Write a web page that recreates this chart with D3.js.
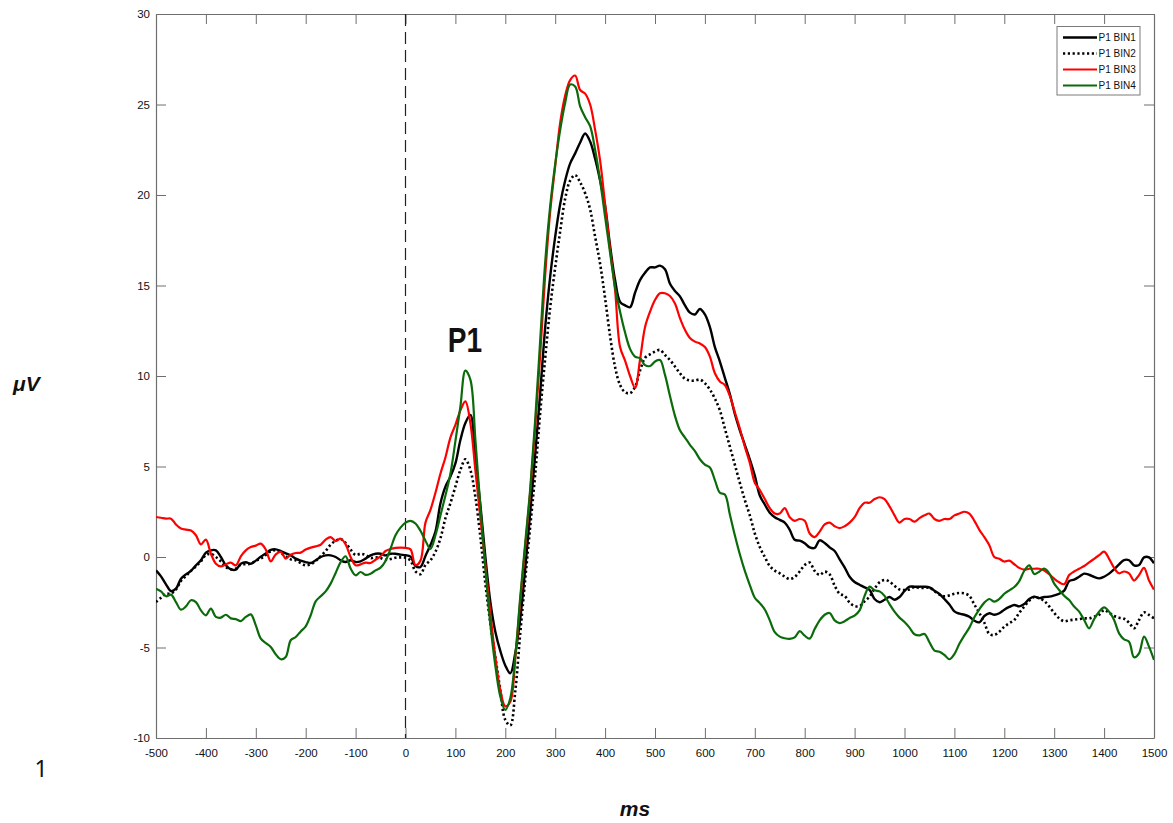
<!DOCTYPE html>
<html>
<head>
<meta charset="utf-8">
<script src="https://cdn.jsdelivr.net/npm/d3@7"></script>
<style>
  html, body { margin: 0; padding: 0; background: #ffffff; }
  svg { display: block; }
  .tick text { font-family: "Liberation Sans", Arial, Helvetica, sans-serif; font-size: 11.5px; fill: #111; }
</style>
</head>
<body>
<svg id="chart" width="1173" height="823"></svg>
<script>
// ERP grand averages, one sample every 10 ms from -500 to 1500 ms (µV)
const sampleStep = 10;
const times = d3.range(-500, 1501, sampleStep);

const bin1 = [
  -0.74, -1.07, -1.51, -1.88, -1.75, -1.2, -0.96, -0.77, -0.46, -0.18,
  0.24, 0.37, 0.37, 0.0, -0.46, -0.68, -0.7, -0.37, -0.29, -0.37,
  -0.2, 0.02, 0.2, 0.39, 0.42, 0.33, 0.2, 0.09, -0.09, -0.2,
  -0.28, -0.33, -0.18, 0.0, 0.09, 0.09, 0.0, -0.18, -0.28, -0.18,
  -0.28, -0.24, -0.09, 0.09, 0.18, 0.18, 0.09, 0.18, 0.18, 0.13,
  0.1, 0.02, -0.5, -0.55, 0.06, 0.66, 1.4, 2.96, 3.89, 4.44,
  5.17, 6.46, 7.4, 7.85, 5.5, 2.9, 0.02, -2.47, -4.13, -5.19,
  -5.99, -6.43, -5.3, -3.4, -0.6, 2.5, 5.7, 9.1, 12.7, 15.5,
  17.7, 19.5, 20.8, 21.75, 22.3, 22.9, 23.4, 22.95, 22.0, 20.8,
  19.4, 17.2, 15.3, 14.1, 13.9, 13.8, 14.6, 15.3, 15.7, 16.0,
  16.0, 16.1, 15.9, 15.1, 14.7, 14.4, 13.9, 13.5, 13.4, 13.7,
  13.4, 12.7, 11.6, 10.8, 9.9, 9.0, 7.9, 7.0, 6.2, 5.4,
  4.5, 3.4, 2.9, 2.45, 2.2, 2.05, 1.9, 1.5, 0.95, 0.9,
  0.76, 0.53, 0.5, 0.92, 0.77, 0.53, 0.33, -0.13, -0.57, -1.09,
  -1.38, -1.53, -1.68, -1.82, -2.32, -2.5, -2.36, -2.21, -2.36, -2.21,
  -1.88, -1.64, -1.64, -1.64, -1.64, -1.68, -1.86, -2.04, -2.32, -2.62,
  -3.0, -3.13, -3.19, -3.3, -3.52, -3.61, -3.26, -3.11, -3.19, -3.11,
  -2.91, -2.76, -2.65, -2.73, -2.6, -2.32, -2.19, -2.27, -2.21, -2.19,
  -2.12, -2.03, -1.86, -1.33, -1.25, -1.09, -0.92, -0.98, -1.1, -1.18,
  -1.09, -0.92, -0.68, -0.41, -0.17, -0.18, -0.46, -0.44, -0.02, -0.02,
  -0.35
];

const bin2 = [
  -2.49, -2.25, -2.03, -2.03, -1.8, -1.33, -1.05, -0.77, -0.52, -0.24,
  0.11, 0.17, 0.0, -0.24, -0.55, -0.68, -0.64, -0.42, -0.4, -0.37,
  -0.2, -0.09, 0.11, 0.31, 0.37, 0.22, 0.04, -0.13, -0.18, -0.33,
  -0.46, -0.4, -0.22, 0.04, 0.33, 0.68, 0.9, 0.99, 0.77, 0.41,
  0.11, 0.18, 0.11, -0.06, -0.02, -0.06, -0.15, -0.11, -0.04, -0.02,
  -0.04, -0.2, -0.8, -0.95, -0.44, -0.18, 0.29, 1.03, 2.14, 2.97,
  3.89, 4.81, 5.4, 4.81, 3.33, 1.12, -1.45, -3.66, -5.51, -7.35,
  -9.0, -9.3, -7.4, -4.2, -1.2, 1.7, 4.6, 8.0, 11.0, 13.8,
  16.0, 18.0, 19.8, 20.8, 21.1, 20.7, 20.1, 19.2, 17.7, 16.2,
  14.3, 12.2, 10.5, 9.5, 9.1, 9.05, 9.4, 10.3, 11.0, 11.2,
  11.35, 11.44, 11.16, 10.88, 10.52, 10.15, 9.85, 9.75, 9.75, 9.8,
  9.6, 9.25, 8.75, 8.1, 7.1, 6.1, 5.1, 4.1, 3.15, 2.3,
  1.3, 0.55, 0.0, -0.5, -0.75, -0.9, -1.08, -1.22, -1.1, -0.8,
  -0.44, -0.31, -0.77, -0.99, -0.81, -0.96, -1.58, -2.03, -2.15, -2.52,
  -2.71, -2.71, -2.45, -2.19, -1.75, -1.4, -1.27, -1.36, -1.6, -1.79,
  -1.82, -1.79, -1.66, -1.71, -1.71, -1.69, -1.88, -2.08, -2.17, -2.12,
  -2.03, -1.99, -2.01, -2.15, -2.63, -3.09, -3.63, -4.25, -4.31, -4.13,
  -3.85, -3.66, -3.48, -3.08, -2.74, -2.41, -2.21, -2.28, -2.43, -2.73,
  -3.09, -3.39, -3.55, -3.5, -3.46, -3.43, -3.39, -3.39, -3.3, -3.19,
  -2.93, -3.08, -3.26, -3.35, -3.41, -3.63, -3.94, -3.48, -3.06, -3.2,
  -3.39
];

const bin3 = [
  2.21, 2.17, 2.12, 2.12, 1.8, 1.57, 1.51, 1.47, 1.2, 0.7,
  0.96, 0.18, -0.37, -0.52, -0.4, -0.31, -0.46, 0.04, 0.37, 0.55,
  0.63, 0.74, 0.41, -0.24, 0.15, 0.28, -0.09, 0.13, 0.22, 0.24,
  0.41, 0.52, 0.59, 0.68, 0.96, 1.1, 0.88, 1.01, 0.7, 0.0,
  -0.46, -0.41, -0.31, -0.33, -0.15, 0.04, 0.33, 0.44, 0.5, 0.52,
  0.5, 0.42, -0.45, -0.2, 1.9, 2.6, 3.55, 4.6, 5.5, 6.6,
  7.3, 8.1, 8.6, 7.4, 4.8, 2.2, -0.4, -3.1, -5.5, -7.35,
  -8.25, -8.0, -5.6, -2.4, 0.6, 3.6, 7.2, 11.2, 15.6, 19.1,
  21.6, 24.0, 25.5, 26.35, 26.6, 25.8, 25.6, 25.0, 23.6, 21.9,
  19.5, 17.0, 14.75, 11.6, 10.85, 10.0, 9.35, 10.9, 12.7, 13.55,
  14.2, 14.57, 14.57, 14.42, 14.0, 13.2, 12.55, 12.1, 11.9, 11.8,
  11.6, 11.07, 10.15, 9.7, 9.5, 8.9, 8.0, 7.1, 6.1, 5.2,
  4.1, 3.7, 3.2, 2.7, 2.4, 2.4, 2.7, 2.2, 2.0, 2.1,
  2.0, 1.3, 1.1, 1.4, 1.8, 1.9, 1.7, 1.6, 1.7, 1.9,
  2.2, 2.7, 3.0, 3.0, 3.2, 3.3, 3.2, 2.8, 2.3, 1.9,
  2.1, 2.1, 1.95, 2.15, 2.3, 2.4, 2.1, 2.0, 2.1, 2.1,
  2.3, 2.4, 2.5, 2.4, 2.0, 1.5, 1.1, 0.65, 0.0, -0.1,
  -0.25, -0.2, -0.4, -0.6, -0.7, -0.65, -0.65, -0.65, -0.75, -0.95,
  -1.2, -1.4, -1.5, -1.0, -0.8, -0.65, -0.5, -0.3, -0.1, 0.1,
  0.3, -0.1, -0.6, -0.9, -0.8, -0.9, -1.3, -1.0, -0.6, -1.3,
  -1.8
];

const bin4 = [
  -1.75, -1.9, -2.17, -2.08, -2.49, -2.91, -2.73, -2.39, -2.49, -2.95,
  -3.22, -2.85, -3.31, -3.35, -3.19, -3.39, -3.43, -3.54, -3.31, -3.17,
  -3.78, -4.51, -4.75, -4.97, -5.38, -5.65, -5.52, -4.6, -4.42, -4.11,
  -3.83, -3.22, -2.45, -2.17, -1.9, -1.47, -0.88, -0.28, 0.04, -0.64,
  -1.01, -0.83, -0.99, -0.92, -0.74, -0.59, -0.22, 0.46, 1.2, 1.62,
  1.9, 2.0, 1.85, 1.45, 0.9, 0.45, 1.2, 2.3, 3.4, 4.6,
  6.4, 8.3, 10.3, 9.8, 6.5, 2.8, -0.6, -3.7, -6.0, -7.7,
  -8.45, -7.8, -5.5, -2.2, 0.8, 3.8, 7.6, 12.0, 16.3, 19.4,
  21.7, 23.6, 25.1, 26.1, 26.0, 24.9, 24.3, 23.8, 22.5, 20.8,
  18.8, 16.8, 14.9, 13.55, 12.4, 11.5, 11.07, 10.98, 10.6, 10.55,
  10.8, 10.88, 10.06, 8.9, 7.8, 7.0, 6.6, 6.2, 5.85, 5.4,
  5.1, 4.95, 4.25, 3.55, 3.45, 2.35, 1.2, 0.15, -0.77, -1.55,
  -2.25, -2.55, -2.9, -3.5, -4.15, -4.4, -4.49, -4.52, -4.44, -4.1,
  -4.35, -4.51, -3.98, -3.5, -3.19, -3.09, -3.5, -3.65, -3.55, -3.37,
  -3.24, -2.95, -2.15, -1.64, -1.84, -1.9, -2.15, -2.6, -3.02, -3.35,
  -3.59, -3.9, -4.27, -4.33, -4.25, -4.71, -5.17, -5.23, -5.41, -5.65,
  -5.36, -4.79, -4.33, -3.9, -3.33, -2.89, -2.52, -2.32, -2.47, -2.32,
  -2.03, -1.84, -1.66, -1.33, -0.76, -0.46, -0.94, -0.81, -0.64, -0.9,
  -1.47, -1.82, -2.14, -2.38, -2.74, -3.02, -3.48, -3.94, -3.43, -3.02,
  -2.78, -3.02, -3.48, -4.22, -4.55, -4.68, -5.54, -5.32, -4.4, -4.95,
  -5.69
];

const seriesNames = ["P1 BIN1", "P1 BIN2", "P1 BIN3", "P1 BIN4"];
const xTicks = d3.range(-500, 1501, 100);
const yTicks = [-10, -5, 0, 5, 10, 15, 20, 25, 30];

// ---- layout ----
const svg = d3.select("#chart");
const plot = { left: 156, right: 1154, top: 14, bottom: 738 };

const x = d3.scaleLinear().domain([-500, 1500]).range([plot.left, plot.right]);
const y = d3.scaleLinear().domain([-10, 30]).range([plot.bottom, plot.top]);

const styles = [
  { color: "#000000", width: 2.4, dash: null },
  { color: "#000000", width: 2.6, dash: "2.2,2.6" },
  { color: "#ff0000", width: 2.2, dash: null },
  { color: "#0b6b0b", width: 2.2, dash: null }
];

const axisColor = "#6e6e6e";
// plain hyphen-minus labels, e.g. "-500"
const plainNumber = d => String(d);

// ---- axes (box with inward ticks) ----
const bottomAxis = d3.axisBottom(x).tickValues(xTicks).tickSizeInner(-10).tickSizeOuter(0).tickPadding(11)
  .tickFormat(plainNumber);
const topAxis = d3.axisTop(x).tickValues(xTicks).tickSizeInner(-10).tickSizeOuter(0).tickFormat("");
const leftAxis = d3.axisLeft(y).tickValues(yTicks).tickSizeInner(-10).tickSizeOuter(0).tickPadding(6)
  .tickFormat(plainNumber);
const rightAxis = d3.axisRight(y).tickValues(yTicks).tickSizeInner(-10).tickSizeOuter(0).tickFormat("");

function styleAxis(g) {
  g.select(".domain").attr("stroke", axisColor).attr("stroke-width", 1.2);
  g.selectAll(".tick line").attr("stroke", axisColor).attr("stroke-width", 1);
  g.selectAll(".tick text").attr("fill", "#111");
}

svg.append("g").attr("transform", `translate(0,${plot.bottom})`).call(bottomAxis).call(styleAxis);
svg.append("g").attr("transform", `translate(0,${plot.top})`).call(topAxis).call(styleAxis);
svg.append("g").attr("transform", `translate(${plot.left},0)`).call(leftAxis).call(styleAxis);
svg.append("g").attr("transform", `translate(${plot.right},0)`).call(rightAxis).call(styleAxis);

// stimulus onset marker
svg.append("line")
  .attr("x1", x(0)).attr("x2", x(0))
  .attr("y1", plot.top).attr("y2", plot.bottom)
  .attr("stroke", "#222").attr("stroke-width", 1.2)
  .attr("stroke-dasharray", "12,6");

// ---- waveforms ----
const allSeries = [bin1, bin2, bin3, bin4];
const line = d3.line()
  .x((d, i) => x(times[i]))
  .y(d => y(d))
  .curve(d3.curveCatmullRom.alpha(0.5));

svg.append("clipPath").attr("id", "plot-clip")
  .append("rect")
  .attr("x", plot.left).attr("y", plot.top)
  .attr("width", plot.right - plot.left).attr("height", plot.bottom - plot.top);

const waves = svg.append("g").attr("clip-path", "url(#plot-clip)");
allSeries.forEach((vals, k) => {
  waves.append("path")
    .datum(vals)
    .attr("fill", "none")
    .attr("stroke", styles[k].color)
    .attr("stroke-width", styles[k].width)
    .attr("stroke-linejoin", "round")
    .attr("stroke-dasharray", styles[k].dash)
    .attr("d", line);
});

// ---- legend ----
const legend = svg.append("g").attr("transform", "translate(1057,26.5)");
legend.append("rect")
  .attr("width", 83).attr("height", 68.5)
  .attr("fill", "#fff").attr("stroke", "#7a7a7a").attr("stroke-width", 1);
seriesNames.forEach((name, k) => {
  const yy = 11 + k * 16;
  legend.append("line")
    .attr("x1", 6).attr("x2", 40).attr("y1", yy).attr("y2", yy)
    .attr("stroke", styles[k].color)
    .attr("stroke-width", styles[k].width)
    .attr("stroke-dasharray", styles[k].dash);
  legend.append("text")
    .attr("x", 41.5).attr("y", yy + 3.6)
    .attr("font-family", "Liberation Sans, Arial, sans-serif")
    .attr("font-size", "10px").attr("fill", "#111")
    .text(name);
});

// ---- labels ----
svg.append("text")
  .attr("x", 13).attr("y", 391)
  .attr("font-family", "Liberation Sans, Arial, sans-serif")
  .attr("font-size", "21px").attr("font-weight", "bold").attr("font-style", "italic")
  .attr("fill", "#111")
  .text("μV");

svg.append("text")
  .attr("x", 635).attr("y", 816).attr("text-anchor", "middle")
  .attr("font-family", "Liberation Sans, Arial, sans-serif")
  .attr("font-size", "21px").attr("font-weight", "bold").attr("font-style", "italic")
  .attr("fill", "#111")
  .text("ms");

svg.append("text")
  .attr("x", 41).attr("y", 777).attr("text-anchor", "middle")
  .attr("font-family", "Noto Sans, Liberation Sans, sans-serif")
  .attr("font-size", "23px")
  .attr("fill", "#111")
  .text("1");

// condensed bold component label
svg.append("text")
  .attr("transform", "translate(465,352) scale(0.78,1)")
  .attr("text-anchor", "middle")
  .attr("font-family", "Liberation Sans, Arial, sans-serif")
  .attr("font-size", "36px").attr("font-weight", "bold")
  .attr("fill", "#111")
  .text("P1");
</script>
</body>
</html>
